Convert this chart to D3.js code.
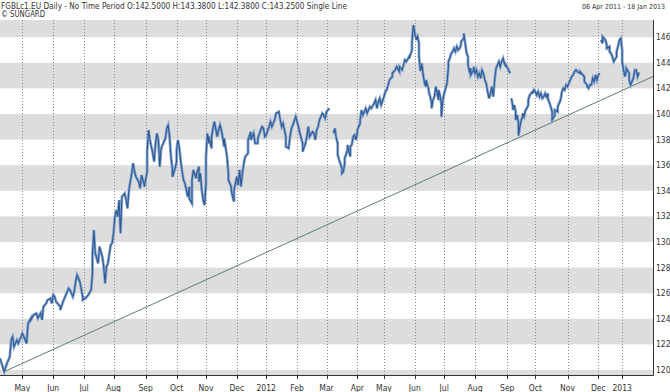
<!DOCTYPE html>
<html>
<head>
<meta charset="utf-8">
<script src="https://cdn.jsdelivr.net/npm/d3@7"></script>
<style>
body { margin:0; background:#fff; }
text { font-family: "DejaVu Sans Condensed", "DejaVu Sans", sans-serif; fill:#333; }
</style>
</head>
<body>
<div id="chart"></div>
<script>
var margin = {top: 20, right: 17, bottom: 17, left: 0}
var width = 670 - margin.left - margin.right,
    height = 392 - margin.top - margin.bottom;

// header texts
const titleText = "FGBLc1.EU Daily -  No Time Period O:142.5000 H:143.3800 L:142.3800 C:143.2500 Single Line"
const sourceText = "\u00a9 SUNGARD"
const rangeText = "06 Apr 2011  -  18 Jan 2013"

// trading calendar (Eurex holidays in the period)
const startDate = "2011-04-06"
const holidays = ["2011-04-22","2011-04-25","2011-12-26","2012-04-06","2012-04-09","2012-05-01",
                  "2012-12-24","2012-12-25","2012-12-26","2012-12-31","2013-01-01"]
const lastSession = 466

// [session number, close]
const prices = [
[0,120.91],[3,119.87],[5,120.52],[7,121.04],[8,122.34],[9,122.60],[10,121.82],[12,122.34],[13,122.08],[15,122.60],
[16,122.86],[18,122.34],[19,122.08],[20,123.65],[22,124.04],[22,123.91],[24,124.30],[26,124.43],[27,124.04],[29,124.43],
[30,123.91],[31,124.95],[33,125.21],[34,125.47],[36,125.60],[37,125.21],[38,125.86],[39,125.73],[40,125.34],[43,124.95],
[43,124.69],[45,125.34],[47,125.86],[49,126.38],[50,126.25],[52,125.73],[53,126.12],[54,126.90],[55,127.42],[57,126.90],
[59,125.73],[59,125.47],[61,125.60],[63,125.86],[65,126.25],[66,127.55],[66,129.11],[67,130.94],[68,129.11],[69,128.72],
[70,128.33],[71,129.64],[73,128.85],[74,128.07],[75,126.77],[76,128.07],[77,128.33],[79,129.77],[80,129.90],[81,130.68],
[82,131.98],[83,132.50],[84,131.98],[85,133.28],[86,130.68],[87,133.54],[89,133.80],[90,133.28],[91,132.63],[92,134.06],
[94,135.36],[95,136.15],[96,135.49],[97,135.10],[99,134.71],[100,134.19],[101,135.23],[103,134.45],[103,134.32],[105,135.49],
[105,137.06],[106,138.75],[107,137.97],[109,136.93],[110,136.28],[111,137.71],[112,138.49],[113,137.97],[114,135.89],[115,137.32],
[117,137.84],[118,138.10],[119,138.88],[120,139.14],
[121,138.23],[122,136.67],[123,135.76],[123,135.10],[125,135.76],[126,136.28],[126,137.19],[127,137.97],[128,137.32],[129,136.28],
[130,135.49],[131,134.84],[132,134.58],[133,134.06],[134,133.54],[135,134.32],[135,133.41],[137,133.02],[137,134.84],[138,135.63],
[140,134.97],[140,135.23],[142,135.89],[142,134.71],[143,135.36],[144,134.06],[145,133.28],[146,132.89],[147,134.58],[147,136.67],
[148,138.49],[149,137.71],[149,138.23],[151,137.32],[151,138.23],[152,138.88],[153,139.40],[155,138.23],[156,138.75],[157,139.14],
[158,138.75],[160,137.45],[160,138.10],[162,136.67],[163,135.36],[163,134.84],[165,134.32],[165,134.06],[166,133.54],[167,133.15],
[167,134.06],[169,135.10],[170,134.45],[171,135.63],[172,134.32],[173,135.36],[174,136.15],[175,136.67],[177,136.93],[177,137.97],
[179,138.62],[179,137.97],[181,138.49],[182,137.71],[184,137.71],[184,138.10],[186,138.75],[187,139.01],[188,138.88],[189,138.23],
[190,138.36],[192,139.01],[193,139.40],[194,139.01],[195,139.27],[196,139.53],[197,140.05],[199,140.18],[200,139.53],[201,139.01],
[202,139.27],[204,138.23],[204,137.45],[206,137.32],[207,138.23],[208,138.88],[209,139.14],[211,139.79],[212,139.40],[213,139.01],
[214,138.49],[216,137.71],[216,137.06],[218,137.71],[219,138.23],[220,139.01],[221,138.23],[223,138.62],[224,138.49],[225,137.97],
[226,138.75],[227,139.01],[228,139.53],[230,140.05],[231,139.92],[232,139.66],[233,140.18],[234,140.31],[235,140.44],
[238,138.49],[239,138.88],[240,138.10],[241,137.71],[241,136.80],[242,136.41],[244,135.76],[244,135.36],[245,135.49],[246,136.15],
[246,136.54],[248,137.19],[248,137.58],[249,137.06],[250,136.67],[250,137.45],[251,137.58],[252,138.23],[253,138.36],[254,137.97],
[255,138.49],[255,138.75],[257,139.27],[257,139.53],[258,140.31],[259,139.92],[260,140.18],[261,140.44],[262,140.05],[263,140.31],
[264,140.57],[265,140.44],[267,140.83],[268,141.09],[269,140.44],[270,140.96],[271,141.22],[272,140.70],[274,141.35],[275,141.74],
[276,141.88],[277,142.27],[278,142.66],[280,142.92],[280,143.18],[282,143.44],[283,143.70],[285,143.31],[285,143.70],[287,143.44],
[288,143.83],[289,144.22],[290,144.09],[292,144.48],[292,144.35],[294,145.00],[294,145.65],[295,146.95],[296,146.30],[297,145.91],
[297,145.78],[298,146.04],[299,145.52],[299,144.48],[300,143.36],[301,143.83],[301,143.96],[302,143.05],[303,142.40],[304,142.14],
[304,142.66],[306,141.88],[306,141.74],[307,141.35],[308,140.83],[308,140.44],[309,141.09],[310,141.35],[311,142.14],[312,141.61],
[313,141.09],[313,141.88],[314,141.48],[315,140.70],[315,139.79],[316,141.09],[317,141.61],[318,142.01],[319,142.40],[320,143.70],
[320,144.09],[321,144.35],[322,144.74],[323,144.87],[324,145.13],[325,144.87],[326,145.26],[327,145.00],[328,145.13],[329,145.39],
[329,145.65],[331,145.91],[331,146.30],[332,145.52],[333,144.74],[334,144.48],[334,143.83],[335,143.31],[336,143.57],[336,143.05],
[338,143.44],[338,143.70],[339,143.18],[340,143.44],[341,142.92],[342,143.18],[343,142.79],[344,143.44],[345,143.18],[346,142.66],
[347,142.40],[348,141.74],[349,141.22],[350,141.61],[351,142.14],[352,141.35],[353,142.66],[354,143.57],[355,143.83],[356,144.09],
[357,143.70],[358,144.09],[359,144.35],[360,143.96],[361,143.70],[361,143.83],[363,143.44],[364,143.18],
[365,141.22],[366,140.57],[366,140.31],[367,140.70],[368,140.18],[368,139.53],[369,139.92],[370,139.27],[370,138.31],[371,139.01],
[372,139.53],[373,139.79],[373,140.05],[374,139.79],[375,140.31],[376,140.44],[377,140.70],[377,141.09],[378,141.48],[380,141.74],
[380,141.61],[381,141.88],[382,141.74],[383,141.48],[384,141.74],[385,141.35],[386,141.61],[387,141.22],[388,141.35],[389,141.61],
[390,141.35],[391,141.61],[391,141.22],[393,140.57],[394,140.18],[394,139.53],[396,139.92],[396,140.31],[398,140.18],[398,140.57],
[399,140.83],[400,141.09],[401,141.74],[402,142.01],[403,141.88],[404,142.27],[405,142.14],[406,142.40],[407,142.66],[408,142.92],
[409,143.05],[410,143.31],[411,143.44],[412,143.31],[414,143.18],[414,143.31],[415,143.18],[417,142.92],[417,142.53],[419,142.27],
[419,142.14],[420,142.01],[421,142.27],[422,142.27],[423,142.79],[424,142.53],[425,143.05],[426,142.66],[427,143.05],[428,143.18],
[429,145.78],[430,145.52],[430,146.04],[432,145.78],[433,145.39],[433,145.13],[435,145.26],[435,144.87],[436,144.74],[437,144.48],
[438,144.09],[440,144.48],[440,144.87],[441,145.26],[442,145.78],[443,145.91],[444,145.00],[444,144.09],[445,143.44],[446,142.92],
[447,143.44],[447,143.57],[449,143.18],[449,142.66],[450,142.27],[451,142.53],[452,142.79],[453,143.44],[454,143.44],[455,142.92],
[456,143.25]
]

// contract rolls: the line breaks after these sessions
const rollGaps = [235, 364, 428]

// support line from the April 2011 low
const trendLine = [[3,119.87],[466,142.93]]

const yTicks = d3.range(120, 147, 2)


const svg = d3.select("#chart")
    .append("svg")
    .attr("width", 670)
    .attr("height", 392)
    .style("background-color", "#fff")

// ------- scales -------
const parse = d3.timeParse("%Y-%m-%d")
const fmtDay = d3.timeFormat("%Y-%m-%d")
let sessions = d3.timeDay.range(parse(startDate), parse("2013-03-01"))
    .filter(d => d.getDay() % 6 != 0 && !holidays.includes(fmtDay(d)))

let x = d3.scaleLinear().domain([0, lastSession]).range([margin.left, margin.left + width])
let y = d3.scaleLinear().domain([120, 146]).range([370, 37.2])

const plotTop = margin.top, plotBottom = margin.top + height
const plotRight = margin.left + width

// ------- bands -------
let bands = d3.range(118, 148, 2).filter(t => Math.abs((t - 120) / 2) % 2 == 1)
svg.selectAll("rect.band")
    .data(bands)
    .enter()
    .append("rect")
        .attr("class", "band")
        .attr("x", margin.left)
        .attr("width", width)
        .attr("y", d => Math.max(plotTop, y(d + 2)))
        .attr("height", d => Math.min(plotBottom, y(d)) - Math.max(plotTop, y(d + 2)))
        .attr("fill", "#dddddd")

// ------- month grid -------
let monthTicks = sessions.map((d, i) => ({date: d, i: i}))
    .filter(o => o.i > 0 && o.i < lastSession && o.date.getMonth() != sessions[o.i - 1].getMonth())

svg.selectAll("line.grid")
    .data(monthTicks)
    .enter()
    .append("line")
        .attr("x1", d => Math.round(x(d.i)) + 0.5)
        .attr("x2", d => Math.round(x(d.i)) + 0.5)
        .attr("y1", plotTop)
        .attr("y2", plotBottom)
        .attr("stroke", "#8a8a8a")
        .attr("stroke-dasharray", "1,2")

// ------- price line -------
let segments = [[]]
prices.forEach((p, i) => {
    if (i > 0 && rollGaps.includes(prices[i - 1][0]) && p[0] > prices[i - 1][0]) segments.push([])
    segments[segments.length - 1].push(p)
})

svg.append("clipPath").attr("id", "plotClip")
    .append("rect").attr("x", margin.left).attr("y", plotTop).attr("width", width).attr("height", height)

let line = d3.line().x(d => x(d[0])).y(d => y(d[1]))

let g = svg.append("g").attr("clip-path", "url(#plotClip)")

g.append("path")
    .datum(trendLine)
    .attr("d", line)
    .attr("fill", "none")
    .attr("stroke", "#5f7d6e")
    .attr("stroke-width", 1)

g.selectAll("path.halo")
    .data(segments)
    .enter()
    .append("path")
        .attr("d", line)
        .attr("fill", "none")
        .attr("stroke", "#86a4cc")
        .attr("stroke-width", 2.8)
        .attr("stroke-linejoin", "miter")

g.selectAll("path.price")
    .data(segments)
    .enter()
    .append("path")
        .attr("d", line)
        .attr("fill", "none")
        .attr("stroke", "#2c5a94")
        .attr("stroke-width", 1.1)

// ------- axes -------
svg.append("line")
    .attr("x1", plotRight + 0.5).attr("x2", plotRight + 0.5)
    .attr("y1", plotTop).attr("y2", plotBottom + 0.5)
    .attr("stroke", "#333")

svg.append("line")
    .attr("x1", margin.left).attr("x2", plotRight + 0.5)
    .attr("y1", plotBottom + 0.5).attr("y2", plotBottom + 0.5)
    .attr("stroke", "#333")

svg.selectAll("line.xtick")
    .data(monthTicks)
    .enter()
    .append("line")
        .attr("x1", d => Math.round(x(d.i)) + 0.5)
        .attr("x2", d => Math.round(x(d.i)) + 0.5)
        .attr("y1", plotBottom)
        .attr("y2", plotBottom + 4)
        .attr("stroke", "#333")

svg.selectAll("text.xlabel")
    .data(monthTicks)
    .enter()
    .append("text")
        .attr("x", d => x(d.i))
        .attr("y", 390.5)
        .attr("text-anchor", "middle")
        .style("font-size", "8.5px")
        .text(d => d.date.getMonth() == 0 ? d.date.getFullYear() : d3.timeFormat("%b")(d.date))

svg.selectAll("text.ylabel")
    .data(yTicks)
    .enter()
    .append("text")
        .attr("x", plotRight + 3)
        .attr("y", d => y(d))
        .attr("dy", "0.35em")
        .style("font-size", "8.5px")
        .text(d => d)

// ------- header -------
svg.append("text")
    .attr("x", 1).attr("y", 8.5)
    .attr("textLength", 346)
    .attr("lengthAdjust", "spacingAndGlyphs")
    .style("font-size", "8px")
    .text(titleText)

svg.append("text")
    .attr("x", 1).attr("y", 17)
    .attr("textLength", 44)
    .attr("lengthAdjust", "spacingAndGlyphs")
    .style("font-size", "8px")
    .text(sourceText)

svg.append("text")
    .attr("x", 665).attr("y", 8.5)
    .attr("text-anchor", "end")
    .style("font-size", "7px")
    .text(rangeText)
</script>
</body>
</html>
